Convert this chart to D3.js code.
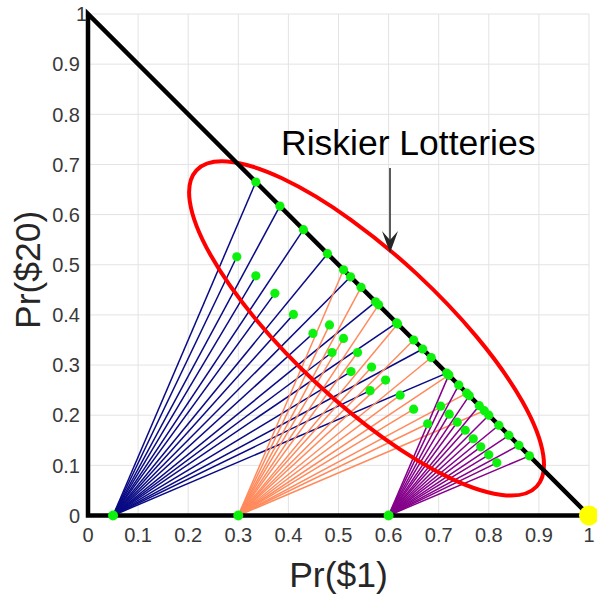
<!DOCTYPE html>
<html>
<head>
<meta charset="utf-8">
<script src="https://cdn.jsdelivr.net/npm/d3@7"></script>
<style>
  body { margin: 0; background: #fff; }
  svg text { font-family: "Liberation Sans", Arial, Helvetica, sans-serif; }
</style>
</head>
<body>
<div id="chart"></div>
<script>
// safe lotteries on the Pr($20) = 0 edge
const originX = [0.05, 0.3, 0.6];
const fanColors = ["#0a0a85", "#ff8a5c", "#84008a"];

// risky lotteries on the hypotenuse, one list per fan
const blueHypX = [0.335, 0.383, 0.430, 0.478, 0.524, 0.574, 0.616, 0.668, 0.716];
const blueHypY = [0.665, 0.617, 0.570, 0.522, 0.476, 0.426, 0.384, 0.332, 0.284];
const orangeHypX = [0.510, 0.545, 0.580, 0.618, 0.650, 0.685, 0.720, 0.756, 0.791];
const orangeHypY = [0.490, 0.455, 0.420, 0.382, 0.350, 0.315, 0.280, 0.244, 0.209];
const purpleHypX = [0.720, 0.740, 0.761, 0.781, 0.800, 0.820, 0.840, 0.860, 0.881];
const purpleHypY = [0.280, 0.260, 0.239, 0.219, 0.200, 0.180, 0.160, 0.140, 0.119];

// risky lotteries inside the triangle
const blueIntX = [0.297, 0.335, 0.373, 0.410, 0.449, 0.487, 0.525, 0.563];
const blueIntY = [0.516, 0.478, 0.443, 0.401, 0.363, 0.325, 0.287, 0.249];
const orangeIntX = [0.482, 0.510, 0.538, 0.566, 0.594, 0.623, 0.650, 0.678];
const orangeIntY = [0.380, 0.353, 0.325, 0.296, 0.270, 0.240, 0.212, 0.183];
const purpleIntX = [0.704, 0.721, 0.737, 0.753, 0.769, 0.784, 0.800, 0.816];
const purpleIntY = [0.218, 0.202, 0.186, 0.170, 0.153, 0.137, 0.121, 0.105];

const ticks = [0, 0.1, 0.2, 0.3, 0.4, 0.5, 0.6, 0.7, 0.8, 0.9, 1];
const tickLabels = ["0", "0.1", "0.2", "0.3", "0.4", "0.5", "0.6", "0.7", "0.8", "0.9", "1"];

// ellipse around the riskier lotteries (centre, semi axes in data units, tilt in degrees)
const ellipseCentre = [0.556, 0.373];
const ellipseAxes = [0.4635, 0.148];
const ellipseTilt = 42.9;

const width = 597, height = 596;
const x = d3.scaleLinear().domain([0, 1]).range([88, 589]);
const y = d3.scaleLinear().domain([0, 1]).range([515.5, 14]);

const svg = d3.select("#chart").append("svg")
  .attr("width", width)
  .attr("height", height);

////////////////////////////////////////////////////////////////////////////////////
// grid

const grid = svg.append("g").attr("stroke", "#e3e3e3").attr("stroke-width", 1);
grid.selectAll("line.v").data(ticks).enter().append("line")
  .attr("x1", d => x(d)).attr("x2", d => x(d))
  .attr("y1", y(0)).attr("y2", y(1));
grid.selectAll("line.h").data(ticks).enter().append("line")
  .attr("y1", d => y(d)).attr("y2", d => y(d))
  .attr("x1", x(0)).attr("x2", x(1));

////////////////////////////////////////////////////////////////////////////////////
// fans of lines from each safe lottery

const fans = [
  { hx: blueHypX, hy: blueHypY, ix: blueIntX, iy: blueIntY },
  { hx: orangeHypX, hy: orangeHypY, ix: orangeIntX, iy: orangeIntY },
  { hx: purpleHypX, hy: purpleHypY, ix: purpleIntX, iy: purpleIntY },
];

const targets = [];
fans.forEach((f, k) => {
  f.hx.forEach((v, i) => targets.push({ fan: k, x: v, y: f.hy[i] }));
  f.ix.forEach((v, i) => targets.push({ fan: k, x: v, y: f.iy[i] }));
});

svg.append("g").selectAll("line").data(targets).enter().append("line")
  .attr("x1", d => x(originX[d.fan]))
  .attr("y1", y(0))
  .attr("x2", d => x(d.x))
  .attr("y2", d => y(d.y))
  .attr("stroke", d => fanColors[d.fan])
  .attr("stroke-width", 1.5);

////////////////////////////////////////////////////////////////////////////////////
// ellipse, triangle edges

svg.append("ellipse")
  .attr("transform", `translate(${x(ellipseCentre[0])},${y(ellipseCentre[1])}) rotate(${ellipseTilt})`)
  .attr("rx", x(ellipseAxes[0]) - x(0))
  .attr("ry", x(ellipseAxes[1]) - x(0))
  .attr("fill", "none")
  .attr("stroke", "#ff0000")
  .attr("stroke-width", 4);

svg.append("path")
  .attr("d", `M${x(0)},${y(1)}L${x(0)},${y(0)}L${x(1)},${y(0)}Z`)
  .attr("fill", "none")
  .attr("stroke", "#000")
  .attr("stroke-width", 4.5)
  .attr("stroke-linejoin", "miter");

////////////////////////////////////////////////////////////////////////////////////
// dots

svg.append("g").selectAll("circle").data(targets).enter().append("circle")
  .attr("cx", d => x(d.x))
  .attr("cy", d => y(d.y))
  .attr("r", 4.6)
  .attr("fill", "#0df20d");

svg.append("g").selectAll("circle").data(originX).enter().append("circle")
  .attr("cx", d => x(d))
  .attr("cy", y(0))
  .attr("r", 5)
  .attr("fill", "#0df20d");

svg.append("circle")
  .attr("cx", x(1))
  .attr("cy", y(0))
  .attr("r", 10)
  .attr("fill", "#ffff00");

////////////////////////////////////////////////////////////////////////////////////
// tick labels and axis titles

svg.append("g").selectAll("text").data(ticks).enter().append("text")
  .attr("x", d => x(d))
  .attr("y", 542)
  .attr("text-anchor", "middle")
  .attr("font-size", 20)
  .attr("fill", "#3a3a3a")
  .text((d, i) => tickLabels[i]);

svg.append("g").selectAll("text").data(ticks).enter().append("text")
  .attr("x", d => (d === 1 ? 87 : 80))
  .attr("y", d => y(d))
  .attr("dy", "0.36em")
  .attr("text-anchor", "end")
  .attr("font-size", 20)
  .attr("fill", "#3a3a3a")
  .text((d, i) => tickLabels[i]);

svg.append("text")
  .attr("x", x(0.5))
  .attr("y", 587)
  .attr("text-anchor", "middle")
  .attr("font-size", 35.5)
  .attr("fill", "#262626")
  .text("Pr($1)");

svg.append("text")
  .attr("transform", `translate(40,${y(0.49)}) rotate(-90)`)
  .attr("text-anchor", "middle")
  .attr("font-size", 35.5)
  .attr("fill", "#262626")
  .text("Pr($20)");

////////////////////////////////////////////////////////////////////////////////////
// annotation

svg.append("text")
  .attr("x", 281)
  .attr("y", 155)
  .attr("font-size", 35.5)
  .attr("fill", "#000")
  .text("Riskier Lotteries");

const ax = 390, aTop = 168, aTip = 253;
svg.append("line")
  .attr("x1", ax).attr("x2", ax)
  .attr("y1", aTop).attr("y2", aTip - 10)
  .attr("stroke", "#262626")
  .attr("stroke-width", 1.5);
svg.append("path")
  .attr("d", `M${ax},${aTip}L${ax - 8},${aTip - 22}L${ax},${aTip - 13}L${ax + 8},${aTip - 22}Z`)
  .attr("fill", "#262626");
</script>
</body>
</html>
